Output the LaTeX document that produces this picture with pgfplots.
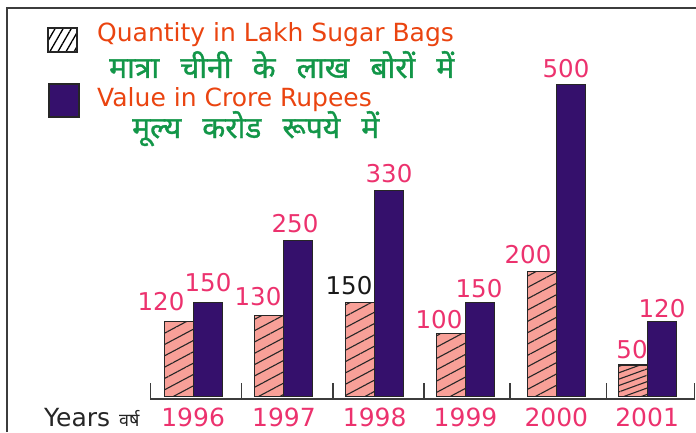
\documentclass[border=0pt]{standalone}
\usepackage{pgfplots}
\pgfplotsset{compat=1.18}
\usetikzlibrary{patterns.meta}
\usepackage{fontspec}
\setmainfont{DejaVu Sans}
\newfontfamily\hindi[Script=Devanagari]{Noto Sans}
\newfontfamily\hindiwide[Script=Devanagari,WordSpace=2.7,FakeBold=1.2]{Noto Sans}
\definecolor{hatchfill}{RGB}{248,160,152}
\definecolor{barblue}{RGB}{53,16,108}
\definecolor{lblpink}{RGB}{236,50,110}
\definecolor{legorange}{RGB}{234,68,16}
\definecolor{leggreen}{RGB}{18,150,72}
\definecolor{framegray}{RGB}{60,60,60}
\newcommand{\bigfnt}{\fontsize{25}{30}\selectfont}
\begin{document}
\begin{tikzpicture}[x=1pt,y=1pt]
\useasboundingbox (-150,-33) rectangle (546,399);
\begin{axis}[
  at={(0,0)}, anchor=south west, scale only axis,
  width=544.8pt, height=377.2pt,
  xmin=-0.475, xmax=5.525, ymin=-4.5, ymax=600,
  axis x line*=bottom, axis y line=none,
  x axis line style={framegray, line width=1.5pt, -},
  ybar=0pt, bar width=29pt,
  xtick={0,1,2,3,4,5}, xticklabels={1996,1997,1998,1999,2000,2001},
  major tick length=0pt,
  xticklabel style={anchor=base, font=\bigfnt, text=lblpink, yshift=-27pt},
  extra x ticks={-0.47,0.53,1.54,2.54,3.49,4.55,5.52},
  extra x tick labels={},
  extra x tick style={tick align=inside, major tick length=16pt, tick style={framegray, line width=1.5pt}},
  clip=false,
]
\addplot[fill=hatchfill, draw=black!85, line width=1.1pt, bar shift=-14.5pt,
  postaction={pattern={Lines[angle=28,distance=10pt,line width=1.1pt]}, pattern color=black!85}]
  coordinates {(0,120) (1,130) (2,150) (3,100) (4,200)};
\addplot[fill=hatchfill, draw=black!85, line width=1.1pt, bar shift=-14.5pt,
  postaction={pattern={Lines[angle=20,distance=6pt,line width=1.1pt]}, pattern color=black!85}]
  coordinates {(5,50)};
\addplot[fill=barblue, draw=black!85, line width=1.1pt, bar shift=14.5pt]
  coordinates {(0,150) (1,250) (2,330) (3,150) (4,500) (5,120)};
\end{axis}
% frame
\draw[framegray, line width=1.5pt] (-143,-33) -- (-143,391) -- (546,391);
% legend
\fill[white] (-102,347) rectangle (-73,371);
\fill[pattern={Lines[angle=60,distance=7pt,line width=1.3pt]}, pattern color=black] (-102,347) rectangle (-73,371);
\draw[black!85, line width=1.3pt] (-102,347) rectangle (-73,371);
\filldraw[fill=barblue, draw=black!85, line width=1.3pt] (-101,282) rectangle (-71,315);
\node[anchor=base west, inner sep=0, text=legorange, font=\bigfnt] at (-53,357) {Quantity in Lakh Sugar Bags};
\node[anchor=base west, inner sep=0, text=leggreen, font=\hindiwide\fontsize{30}{34}\selectfont] at (-41,321) {मात्रा चीनी के लाख बोरों में};
\node[anchor=base west, inner sep=0, text=legorange, font=\bigfnt] at (-53,292) {Value in Crore Rupees};
\node[anchor=base west, inner sep=0, text=leggreen, font=\hindiwide\fontsize{30}{34}\selectfont] at (-18,261) {मूल्य करोड रूपये में};
% years label
\node[anchor=base west, inner sep=0, text=black!85, font=\bigfnt] at (-106,-27) {Years};
\node[anchor=base west, inner sep=0, text=black!85, font=\hindi\fontsize{18}{22}\selectfont] at (-31,-27) {वर्ष};
% value labels
\begin{scope}[every node/.style={anchor=base, inner sep=0, font=\fontsize{24.5}{29}\selectfont, text=lblpink}]
\node at (11,89) {120};
\node at (58,108) {150};
\node at (108,94) {130};
\node at (145,167) {250};
\node[text=black!90] at (199,105) {150};
\node at (239,217) {330};
\node at (289,71) {100};
\node at (329,102) {150};
\node at (378,136) {200};
\node at (416,321) {500};
\node at (482,41) {50};
\node at (512,82) {120};
\end{scope}
\end{tikzpicture}
\end{document}
